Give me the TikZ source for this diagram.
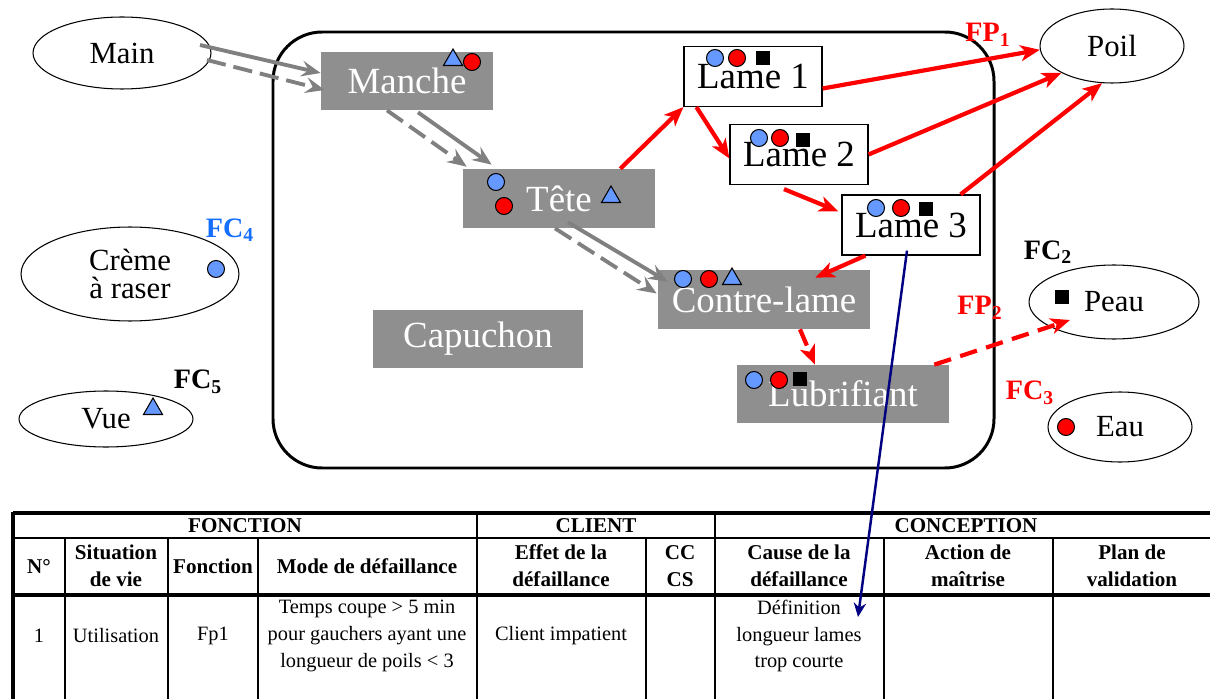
\documentclass[tikz,border=0pt]{standalone}
\usepackage{fontspec}
\setmainfont{Liberation Serif}
\usetikzlibrary{shapes.geometric,arrows.meta,calc}

\definecolor{boxgray}{RGB}{143,143,143}
\definecolor{arrgray}{RGB}{128,128,128}
\definecolor{iconblue}{RGB}{102,153,255}
\definecolor{fcblue}{RGB}{20,110,255}
\definecolor{linkblue}{RGB}{0,0,128}

\begin{document}
\begin{tikzpicture}[x=0.02cm, y=-0.02cm,
    part/.style={fill=boxgray, text=white, font=\fontsize{21}{24}\selectfont, inner sep=0pt},
    lame/.style={draw, fill=white, line width=0.7pt, minimum width=2.76cm, minimum height=1.2cm, font=\fontsize{21}{24}\selectfont, inner sep=0pt},
    env/.style={draw, ellipse, line width=0.6pt, font=\fontsize{17.5}{16}\selectfont, inner sep=0pt},
    fc/.style={font=\bfseries\fontsize{16}{18}\selectfont, inner sep=0pt},
    bc/.style={circle, draw, fill=iconblue, minimum size=0.34cm, inner sep=0pt, line width=0.6pt},
    rc/.style={circle, draw, fill=red, minimum size=0.34cm, inner sep=0pt, line width=0.6pt},
    sq/.style={fill=black, minimum size=0.28cm, inner sep=0pt},
    tri/.style={regular polygon, regular polygon sides=3, draw, fill=iconblue, minimum size=0.44cm, inner sep=0pt, line width=0.6pt},
    grayarr/.style={draw=arrgray, line width=2.2pt, -{Stealth[length=11pt,width=9pt,inset=4pt]}},
    redarr/.style={draw=red, line width=2.4pt, -{Stealth[length=11pt,width=9pt,inset=3pt]}},
    cell/.style={font=\fontsize{11.6}{15.3}\selectfont, align=center, inner sep=0pt},
    head/.style={cell, font=\bfseries\fontsize{12}{15.3}\selectfont}]

        \useasboundingbox (0,0) rectangle (1210,699);

        \draw[line width=1.7pt, rounded corners=28pt] (273,32) rectangle (994,468);

        \node[part, minimum width=3.44cm, minimum height=1.16cm] (manche) at (407,81) {Manche};
        \node[part, minimum width=3.84cm, minimum height=1.18cm] (tete) at (559,198.5) {Tête};
        \node[part, minimum width=4.2cm, minimum height=1.16cm] (capuchon) at (478,339) {Capuchon};
        \node[part, minimum width=4.24cm, minimum height=1.18cm] (contre) at (764,299.5) {Contre-lame};
        \node[part, minimum width=4.24cm, minimum height=1.16cm] (lub) at (843,394) {Lubrifiant};

        \node[lame] (lame1) at (753,76.5) {Lame 1};
        \node[lame] (lame2) at (799,154.5) {Lame 2};
        \node[lame] (lame3) at (911,225) {Lame 3};

        \node[env, minimum width=3.56cm, minimum height=1.44cm] (main) at (122,53) {Main};
        \node[env, minimum width=4.36cm, minimum height=1.88cm, align=center] (creme) at (130,274) {Crème\\à raser};
        \node[env, minimum width=3.48cm, minimum height=1.12cm] (vue) at (106,419) {Vue};
        \node[env, minimum width=2.88cm, minimum height=1.48cm] (poil) at (1112,46) {Poil};
        \node[env, minimum width=3.4cm, minimum height=1.48cm] (peau) at (1114,302) {Peau};
        \node[env, minimum width=2.88cm, minimum height=1.4cm] (eau) at (1120,427) {Eau};

        \draw[grayarr] ($(main.center)+(78,-8)$) -- ($(manche.west)+(0,-8)$);
        \draw[grayarr, dash pattern=on 11pt off 4.5pt] ($(main.center)+(85,7)$) -- ($(manche.west)+(4,9)$);
        \draw[grayarr] ($(manche.south)+(11,2)$) -- ($(tete.north west)+(29,-4)$);
        \draw[grayarr, dash pattern=on 11pt off 4.5pt] ($(manche.south)+(-20,0)$) -- ($(tete.north west)+(4,-2)$);
        \draw[grayarr] ($(tete.south)+(9,-6)$) -- ($(contre.north west)+(10,12)$);
        \draw[grayarr, dash pattern=on 11pt off 4.5pt] ($(tete.south)+(-4,0)$) -- ($(contre.west)+(-1,-6)$);

        \draw[redarr] ($(tete.north east)+(-35,0)$) -- (lame1.south west);
        \draw[redarr] ($(lame1.south west)+(13,0)$) -- ($(lame2.west)+(0,4)$);
        \draw[redarr] ($(lame2.south)+(-15,4)$) -- ($(lame3.north west)+(-3,17)$);
        \draw[redarr] ($(lame1.east)+(0,12)$) -- (poil.183);
        \draw[redarr] (lame2.east) -- (poil.208);
        \draw[redarr] ($(lame3.north east)+(-20,0)$) -- (poil.255);
        \draw[redarr] ($(lame3.south west)+(24,0)$) -- ($(contre.north east)+(-55,8)$);
        \draw[redarr, dash pattern=on 10pt off 5.5pt] ($(contre.south)+(36,0)$) -- ($(lub.north)+(-28,0)$);
        \draw[redarr, dash pattern=on 10pt off 5.5pt] ($(lub.north east)+(-15,0)$) -- ($(peau.center)+(-44,18)$);

        \node[tri] (mancheT) at (453,60) {};
        \node[rc] (mancheR) at (472,62) {};
        \node[bc] (teteB) at (496,182) {};
        \node[rc] (teteR) at (504,206) {};
        \node[tri] (teteT) at (611,197) {};
        \node[bc] (contreB) at (683,279) {};
        \node[rc] (contreR) at (709,279) {};
        \node[tri] (contreT) at (732,279) {};
        \node[bc] (lubB) at (754,380) {};
        \node[rc] (lubR) at (779,380) {};
        \node[sq] (lubS) at (800,379) {};
        \node[bc] (lame1B) at (715,58) {};
        \node[rc] (lame1R) at (737,58) {};
        \node[sq] (lame1S) at (763,58) {};
        \node[bc] (lame2B) at (759,138) {};
        \node[rc] (lame2R) at (780,138) {};
        \node[sq] (lame2S) at (803,140) {};
        \node[bc] (lame3B) at (876,208) {};
        \node[rc] (lame3R) at (901,208) {};
        \node[sq] (lame3S) at (926,209) {};
        \node[bc] (cremeB) at (216,269) {};
        \node[tri] (vueT) at (153,409) {};
        \node[sq] (peauS) at (1062,297) {};
        \node[rc] (eauR) at (1066,427) {};

        \node[fc, text=red] (fp1) at (988,35) {FP\textsubscript{1}};
        \node[fc, text=fcblue] (fc4) at (230,230) {FC\textsubscript{4}};
        \node[fc] (fc5) at (198,382) {FC\textsubscript{5}};
        \node[fc] (fc2) at (1048,252) {FC\textsubscript{2}};
        \node[fc, text=red] (fp2) at (980,308) {FP\textsubscript{2}};
        \node[fc, text=red] (fc3) at (1030,393) {FC\textsubscript{3}};

        \draw[line width=1.8pt] (13,513) -- (1210,513);
        \draw[line width=1.2pt] (13,538) -- (1210,538);
        \draw[line width=1.8pt] (13,595) -- (1210,595);
        \draw[line width=1.8pt] (13,512) -- (13,699);
        \draw[line width=1.2pt] (477,513) -- (477,699) (715,513) -- (715,699);
        \draw[line width=1.2pt] (65,538) -- (65,699) (168,538) -- (168,699) (258,538) -- (258,699);
        \draw[line width=1.2pt] (646,538) -- (646,699) (884,538) -- (884,699) (1053,538) -- (1053,699);

        \node[head] (hfonc) at (245,526) {FONCTION};
        \node[head] (hcli) at (596,526) {CLIENT};
        \node[head] (hconc) at (966,526) {CONCEPTION};
        \node[head] (hnum) at (39,566) {N°};
        \node[head] (hsit) at (116,566) {Situation\\de vie};
        \node[head] (hfct) at (213,566) {Fonction};
        \node[head] (hmode) at (367,566) {Mode de défaillance};
        \node[head] (heff) at (561,566) {Effet de la\\défaillance};
        \node[head] (hcc) at (680,566) {CC\\CS};
        \node[head] (hcause) at (799,566) {Cause de la\\défaillance};
        \node[head] (hact) at (968,566) {Action de\\maîtrise};
        \node[head] (hplan) at (1132,566) {Plan de\\validation};

        \node[cell] (num) at (39,636) {1};
        \node[cell] (sit) at (116,636) {Utilisation};
        \node[cell] (fct) at (213,636) {Fp1};
        \node[cell] (mode) at (367,636) {Temps coupe > 5 min\\pour gauchers ayant une\\longueur de poils < 3};
        \node[cell] (eff) at (561,636) {Client impatient};
        \node[cell] (cause) at (799,636) {Définition\\longueur lames\\trop courte};
        \coordinate (causetip) at (858,617);

        \draw[linkblue, line width=1.4pt, -{Stealth[length=8pt,width=7pt]}] ($(lame3.south)+(-4,-5)$) -- (causetip);
    \end{tikzpicture}
\end{document}
